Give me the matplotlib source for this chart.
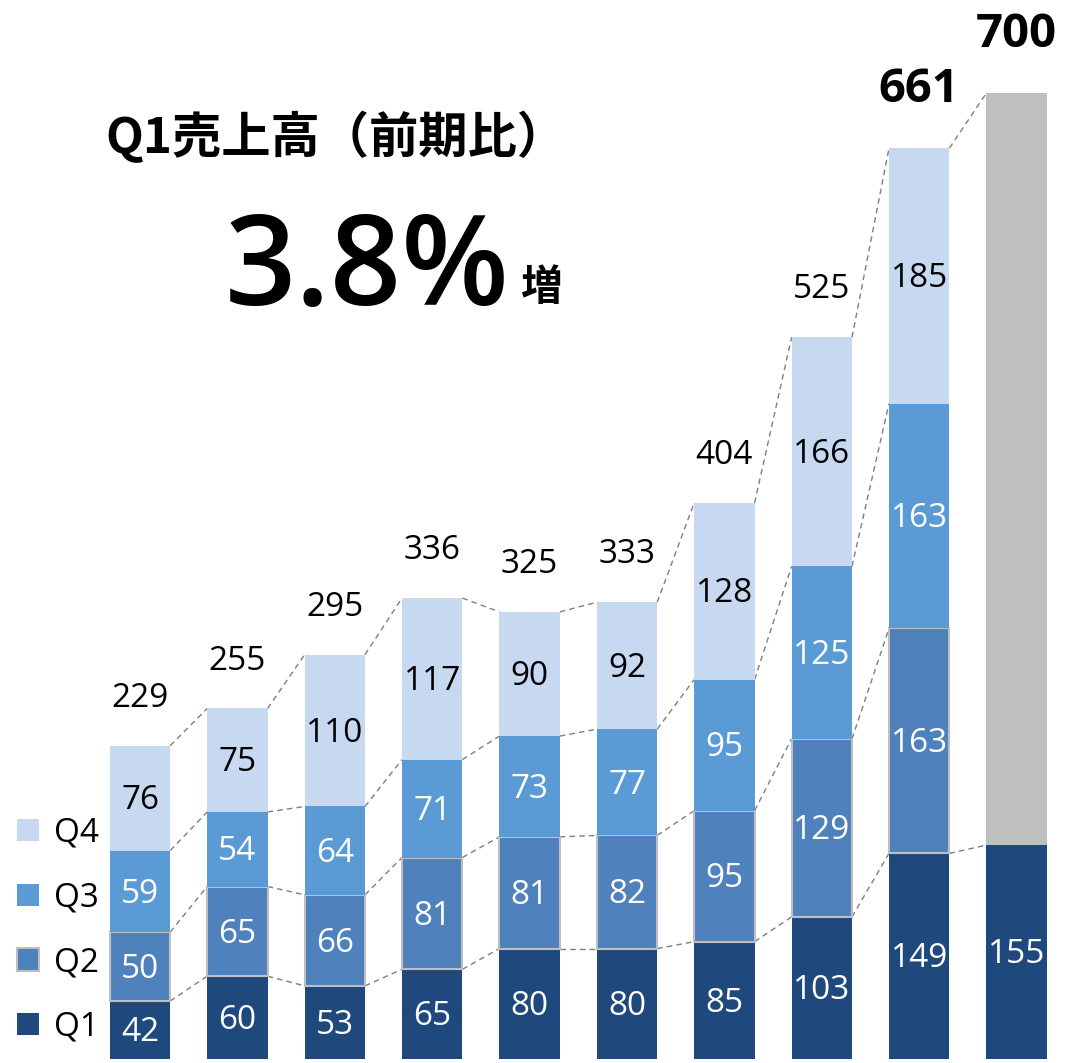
import numpy as np
import matplotlib.pyplot as plt
from matplotlib.patches import Patch

plt.rcParams['font.family'] = ['Open Sans', 'Noto Sans CJK JP', 'DejaVu Sans']

q1 = [42, 60, 53, 65, 80, 80, 85, 103, 149, 155]
q2 = [50, 65, 66, 81, 81, 82, 95, 129, 163]
q3 = [59, 54, 64, 71, 73, 77, 95, 125, 163]
q4 = [76, 75, 110, 117, 90, 92, 128, 166, 185]
totals = [229, 255, 295, 336, 325, 333, 404, 525, 661, 700]
forecast_total = 700

c1, c2, c3, c4 = '#1f497d', '#4f81bd', '#5b9bd5', '#c6d9f0'
grey = '#bfbfbf'

W, H = 1066, 1063
fig = plt.figure(figsize=(W / 100, H / 100), dpi=100)
ax = fig.add_axes([0, 0, 1, 1])
ax.axis('off')

# pixel mapping: bar centre i at 140 + 97.4*i, y=0 at 1059 px from top, 1.38 px per unit
step = 97.4
ax.set_xlim(-140 / step, (W - 140) / step)
ax.set_ylim(-4 / 1.38, (H - 4) / 1.38)

n = len(q1)
nh = len(q2)
x = np.arange(n)
xh = np.arange(nh)
w = 0.62

b2 = np.array(q1[:nh])
b3 = b2 + np.array(q2)
b4 = b3 + np.array(q3)
top = b4 + np.array(q4)

ax.bar(x, q1, w, color=c1, zorder=2)
ax.bar(xh, q2, w, bottom=b2, color=c2, edgecolor=grey, linewidth=1.5, zorder=2)
ax.bar(xh, q3, w, bottom=b3, color=c3, zorder=2)
ax.bar(xh, q4, w, bottom=b4, color=c4, zorder=2)
ax.bar(n - 1, forecast_total - q1[-1], w, bottom=q1[-1], color=grey, zorder=2)

# segment labels
fs = 24
for i in range(n):
    ax.text(x[i], q1[i] / 2 - 2, str(q1[i]), ha='center', va='center', color='white', fontsize=fs)
for i in range(nh):
    ax.text(i, b2[i] + q2[i] / 2 - 2, str(q2[i]), ha='center', va='center', color='white', fontsize=fs)
    ax.text(i, b3[i] + q3[i] / 2 - 2, str(q3[i]), ha='center', va='center', color='white', fontsize=fs)
    ax.text(i, b4[i] + q4[i] / 2 - 2, str(q4[i]), ha='center', va='center', color='black', fontsize=fs)

# totals
tops = list(top) + [forecast_total]
for i in range(n):
    bold = i >= n - 2
    ax.annotate(str(totals[i]), (x[i], tops[i]), xytext=(0, 33 if bold else 28),
                textcoords='offset points', ha='center', va='baseline',
                fontsize=34 if bold else fs, fontweight='bold' if bold else 'normal')

# dashed connectors
lvls = [list(b2) + [q1[-1]], list(b3), list(b4), tops]
for lv in lvls:
    for i in range(len(lv) - 1):
        ax.plot([i + w / 2, i + 1 - w / 2], [lv[i], lv[i + 1]], ls=(0, (4, 3)),
                color='#7f7f7f', lw=1, zorder=1)

# legend
handles = [Patch(facecolor=c4, label='Q4'), Patch(facecolor=c3, label='Q3'),
           Patch(facecolor=c2, edgecolor=grey, linewidth=1.5, label='Q2'),
           Patch(facecolor=c1, label='Q1')]
fig.legend(handles=handles, loc='lower left', bbox_to_anchor=(-0.006, -0.004), frameon=False,
           fontsize=fs, handlelength=0.65, handleheight=0.65, handletextpad=0.45,
           labelspacing=0.95, borderaxespad=0.3)

# headline
fig.text(105 / W, 1 - 137 / H, 'Q1売上高（前期比）', fontsize=35.5, fontweight='bold',
         ha='left', va='center', family=['Noto Sans CJK JP'])
fig.text(510 / W, 1 - 305 / H, '3.8%', fontsize=90, fontweight='semibold',
         ha='right', va='baseline')
fig.text(520 / W, 1 - 300 / H, '増', fontsize=30, fontweight='bold', ha='left',
         va='baseline', family=['Noto Sans CJK JP'])

fig.savefig('out.png', dpi=100)
